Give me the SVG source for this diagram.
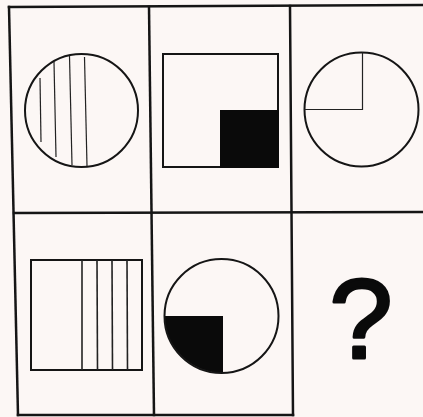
<svg xmlns="http://www.w3.org/2000/svg" width="423" height="417" viewBox="0 0 423 417">
<style>
.grid{stroke:#151515;stroke-width:2.5;fill:none;stroke-linecap:square}
.shape{stroke:#151515;stroke-width:2;fill:none}
.thin{stroke:#222;stroke-width:1.2;fill:none}
.fill{fill:#0a0a0a;stroke:none}
.q{font-family:"Liberation Sans",Arial,sans-serif;font-size:114px;fill:#0a0a0a;stroke:#0a0a0a;stroke-width:3;stroke-linejoin:round}
</style>
<rect width="423" height="417" fill="#fcf7f5"/>
<g id="connectors">
<g id="grid">
<line class="grid" x1="9" y1="7" x2="423" y2="5"/>
<line class="grid" x1="14" y1="213" x2="423" y2="212"/>
<line class="grid" x1="18" y1="415" x2="293" y2="415"/>
<line class="grid" x1="9" y1="7" x2="18" y2="415"/>
<line class="grid" x1="149" y1="7" x2="154" y2="415"/>
<line class="grid" x1="290" y1="6" x2="293" y2="415"/>
</g>
</g>
<g id="cell1">
<circle class="shape" cx="81.5" cy="110.5" r="56.5"/>
<line class="thin" x1="40" y1="78" x2="41" y2="142"/>
<line class="thin" x1="54" y1="62" x2="56" y2="157"/>
<line class="thin" x1="69.5" y1="56" x2="72" y2="165"/>
<line class="thin" x1="84.5" y1="57" x2="87" y2="166"/>
</g>
<g id="cell2">
<rect class="shape" x="163" y="54" width="115" height="113"/>
<rect class="fill" x="220" y="110" width="59" height="58"/>
</g>
<g id="cell3">
<circle class="shape" cx="361.5" cy="109.5" r="57"/>
<polyline class="thin" points="362.5,52.5 362.5,109.5 304.5,109.5"/>
</g>
<g id="cell4">
<rect class="shape" x="31" y="260" width="111" height="110"/>
<line class="thin" x1="82" y1="260" x2="82" y2="370" style="stroke-width:1.6"/>
<line class="thin" x1="97" y1="260" x2="97.5" y2="370" style="stroke-width:1.6"/>
<line class="thin" x1="112" y1="260" x2="112.5" y2="370" style="stroke-width:1.6"/>
<line class="thin" x1="127" y1="260" x2="127.5" y2="370" style="stroke-width:1.6"/>
</g>
<g id="cell5">
<path class="fill" d="M223,316 L164.5,316 A57,57 0 0 0 223,372.5 Z"/>
<circle class="shape" cx="221.5" cy="316" r="57"/>
</g>
<g id="cell6">
<text class="q" x="361" y="358" text-anchor="middle">?</text>
</g>
</svg>
